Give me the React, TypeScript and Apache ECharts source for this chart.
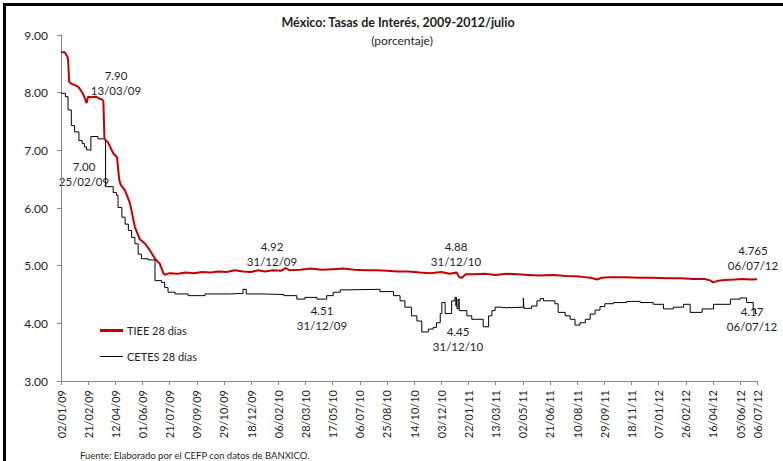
import React, { useEffect, useRef } from "react";
import * as echarts from "echarts";

const START = Date.UTC(2009, 0, 2);
const END_DATE = "2012-07-06";

const tieeDates = [
  "2009-01-02","2009-01-09","2009-01-14","2009-01-15","2009-01-17","2009-01-22","2009-01-28","2009-02-03","2009-02-11","2009-02-15",
  "2009-02-18","2009-02-21","2009-02-28","2009-03-07","2009-03-13","2009-03-19","2009-03-21","2009-03-23","2009-03-30","2009-04-08",
  "2009-04-15","2009-04-19","2009-04-22","2009-04-30","2009-05-09","2009-05-18","2009-05-27","2009-06-06","2009-06-15","2009-06-24",
  "2009-07-03","2009-07-09","2009-07-12","2009-07-21","2009-08-05","2009-08-20","2009-09-04","2009-09-19","2009-10-04","2009-10-19",
  "2009-11-03","2009-11-18","2009-12-03","2009-12-18","2009-12-31","2010-01-12","2010-01-27","2010-02-11","2010-02-20","2010-02-26",
  "2010-03-18","2010-04-07","2010-04-27","2010-05-17","2010-06-06","2010-06-26","2010-07-16","2010-08-05","2010-08-25","2010-09-14",
  "2010-10-04","2010-10-24","2010-11-13","2010-12-03","2010-12-18","2010-12-31","2011-01-05","2011-01-10","2011-01-17","2011-02-01",
  "2011-02-21","2011-03-13","2011-04-02","2011-04-22","2011-05-12","2011-06-01","2011-06-27","2011-07-21","2011-08-15","2011-09-04",
  "2011-09-16","2011-09-24","2011-10-09","2011-11-03","2011-12-04","2011-12-28","2012-01-22","2012-02-16","2012-03-12","2012-04-01",
  "2012-04-12","2012-04-16","2012-04-26","2012-05-08","2012-05-26","2012-06-10","2012-06-25","2012-07-06"
];
const tieeValues = [
  8.70,8.70,8.62,8.58,8.19,8.15,8.13,8.10,7.99,7.90,
  7.82,7.93,7.92,7.93,7.90,7.88,7.84,7.20,7.13,6.95,
  6.88,6.50,6.40,6.30,6.08,5.67,5.46,5.38,5.26,5.12,
  5.03,4.88,4.84,4.87,4.86,4.88,4.87,4.89,4.88,4.90,
  4.89,4.92,4.90,4.89,4.92,4.90,4.92,4.91,4.96,4.92,
  4.93,4.95,4.93,4.94,4.95,4.93,4.92,4.92,4.91,4.90,
  4.90,4.88,4.87,4.89,4.86,4.88,4.80,4.79,4.85,4.85,
  4.86,4.84,4.86,4.85,4.84,4.83,4.84,4.82,4.81,4.79,
  4.76,4.79,4.80,4.80,4.79,4.79,4.78,4.78,4.77,4.77,
  4.74,4.71,4.74,4.75,4.76,4.77,4.76,4.765
];

const cetesDates = [
  "2009-01-02","2009-01-10","2009-01-15","2009-01-21","2009-01-27","2009-02-04","2009-02-10","2009-02-14","2009-02-18","2009-02-22",
  "2009-02-26","2009-03-11","2009-03-21","2009-03-25","2009-04-08","2009-04-14","2009-04-17","2009-04-24","2009-04-30","2009-05-06",
  "2009-05-12","2009-05-18","2009-05-24","2009-05-30","2009-06-11","2009-06-24","2009-07-06","2009-07-12","2009-07-18","2009-07-31",
  "2009-08-24","2009-09-24","2009-11-12","2009-11-30","2009-12-03","2009-12-09","2010-01-07","2010-02-16","2010-03-12","2010-03-27",
  "2010-04-18","2010-05-06","2010-05-18","2010-05-31","2010-06-12","2010-08-12","2010-09-06","2010-09-18","2010-09-27","2010-10-09",
  "2010-10-19","2010-10-28","2010-11-09","2010-11-18","2010-11-24","2010-12-01","2010-12-04","2010-12-10","2010-12-22","2010-12-28",
  "2010-12-30","2010-12-31","2011-01-01","2011-01-03","2011-01-05","2011-01-19","2011-01-28","2011-02-18","2011-02-28","2011-03-06",
  "2011-03-12","2011-03-21","2011-04-02","2011-05-03","2011-05-04","2011-05-18","2011-05-28","2011-06-03","2011-06-09","2011-06-30",
  "2011-07-06","2011-07-19","2011-07-28","2011-08-06","2011-08-15","2011-08-25","2011-09-03","2011-09-12","2011-09-21","2011-09-30",
  "2011-10-16","2011-11-09","2011-12-04","2011-12-28","2012-01-16","2012-02-03","2012-02-22","2012-03-05","2012-03-27","2012-04-17",
  "2012-05-18","2012-06-05","2012-06-17","2012-06-29","2012-07-03","2012-07-06"
];
const cetesValues = [
  7.99,7.93,7.70,7.43,7.32,7.17,7.12,7.06,7.01,7.00,
  7.24,7.20,7.19,6.37,6.27,6.22,6.01,5.84,5.72,5.61,
  5.49,5.38,5.20,5.12,5.10,4.74,4.71,4.62,4.54,4.51,
  4.48,4.51,4.52,4.51,4.59,4.51,4.50,4.48,4.42,4.45,
  4.42,4.48,4.54,4.58,4.59,4.55,4.48,4.39,4.28,4.13,
  4.04,3.85,3.90,3.93,4.01,4.17,4.36,4.17,4.39,4.45,
  4.30,4.45,4.25,4.42,4.22,4.13,4.07,3.94,4.13,4.22,
  4.28,4.27,4.28,4.44,4.26,4.30,4.39,4.43,4.39,4.34,
  4.19,4.13,4.07,3.97,4.01,4.07,4.16,4.23,4.29,4.34,
  4.36,4.38,4.36,4.33,4.25,4.28,4.33,4.19,4.25,4.33,
  4.42,4.44,4.36,4.25,4.17,4.17
];

const xTickLabels = [
  "02/01/09","21/02/09","12/04/09","01/06/09","21/07/09","09/09/09","29/10/09","18/12/09","06/02/10","28/03/10",
  "17/05/10","06/07/10","25/08/10","14/10/10","03/12/10","22/01/11","13/03/11","02/05/11","21/06/11","10/08/11",
  "29/09/11","18/11/11","07/01/12","26/02/12","16/04/12","05/06/12","06/07/12"
];
const yTicks = [3, 4, 5, 6, 7, 8, 9];

const seriesNames = ["TIEE 28 días", "CETES 28 días"];
const seriesColors = ["#C00000", "#000000"];
const titleText = "México: Tasas de Interés, 2009-2012/julio";
const subtitleText = "(porcentaje)";
const sourceText = "Fuente: Elaborado por el CEFP con datos de BANXICO.";

const annotations = [
  { value: "7.90", date: "13/03/09", x: 116, y: 75 },
  { value: "7.00", date: "25/02/09", x: 84, y: 166 },
  { value: "4.92", date: "31/12/09", x: 272, y: 246 },
  { value: "4.88", date: "31/12/10", x: 456, y: 246 },
  { value: "4.51", date: "31/12/09", x: 322, y: 310 },
  { value: "4.45", date: "31/12/10", x: 458, y: 331 },
  { value: "4.765", date: "06/07/12", x: 753, y: 250 },
  { value: "4.17", date: "06/07/12", x: 752, y: 311 },
];

const FONT = "Lato";
const TEXT = "#1e1e1e";

function dayOf(s: string): number {
  const [y, m, d] = s.split("-").map(Number);
  return Math.round((Date.UTC(y, m - 1, d) - START) / 86400000);
}

export default function App() {
  const ref = useRef<HTMLDivElement>(null);
  useEffect(() => {
    if (!ref.current) return;
    const chart = echarts.init(ref.current, null, { renderer: "svg" });
    const maxDay = dayOf(END_DATE);
    const tiee = tieeDates.map((d, i) => [dayOf(d), tieeValues[i]]);
    const cetes = cetesDates.map((d, i) => [dayOf(d), cetesValues[i]]);

    const graphics: any[] = [
      { type: "rect", shape: { x: 3, y: 3, width: 780, height: 3 }, style: { fill: "#000" }, silent: true },
      { type: "rect", shape: { x: 3, y: 3, width: 3, height: 458 }, style: { fill: "#000" }, silent: true },
      { type: "text", x: 398, y: 22, style: { text: titleText, font: `bold 12.5px ${FONT}`, fill: TEXT, textAlign: "center", textVerticalAlign: "middle" } },
      { type: "text", x: 402, y: 40, style: { text: subtitleText, font: `12px ${FONT}`, fill: TEXT, textAlign: "center", textVerticalAlign: "middle" } },
      { type: "text", x: 80, y: 455, style: { text: sourceText, font: `9.5px ${FONT}`, fill: TEXT, textAlign: "left", textVerticalAlign: "middle" } },
      // legend
      { type: "line", shape: { x1: 100, y1: 330.5, x2: 123, y2: 330.5 }, style: { stroke: seriesColors[0], lineWidth: 3 } },
      { type: "text", x: 127, y: 330.5, style: { text: seriesNames[0], font: `11px ${FONT}`, fill: TEXT, textAlign: "left", textVerticalAlign: "middle" } },
      { type: "line", shape: { x1: 100, y1: 356.5, x2: 123, y2: 356.5 }, style: { stroke: seriesColors[1], lineWidth: 1 } },
      { type: "text", x: 127, y: 356.5, style: { text: seriesNames[1], font: `11px ${FONT}`, fill: TEXT, textAlign: "left", textVerticalAlign: "middle" } },
    ];
    annotations.forEach((a) => {
      graphics.push({ type: "text", x: a.x, y: a.y, style: { text: a.value, font: `11.5px ${FONT}`, fill: TEXT, textAlign: "center", textVerticalAlign: "middle" } });
      graphics.push({ type: "text", x: a.x, y: a.y + 15, style: { text: a.date, font: `11.5px ${FONT}`, fill: TEXT, textAlign: "center", textVerticalAlign: "middle" } });
    });

    chart.setOption({
      animation: false,
      backgroundColor: "#fff",
      grid: { left: 61, right: 26, top: 35, bottom: 80, containLabel: false },
      xAxis: {
        type: "value",
        min: 0,
        max: maxDay,
        interval: 50,
        axisLine: { lineStyle: { color: "#868686", width: 1 } },
        axisTick: { show: true, length: 4, lineStyle: { color: "#868686" } },
        splitLine: { show: false },
        axisLabel: {
          rotate: 90,
          margin: 9,
          fontFamily: FONT,
          fontSize: 11,
          color: TEXT,
          showMaxLabel: true,
          formatter: (v: number) => {
            if (v >= maxDay) return xTickLabels[xTickLabels.length - 1];
            const i = Math.round(v / 50);
            return xTickLabels[i] ?? "";
          },
        },
      },
      yAxis: {
        type: "value",
        min: yTicks[0],
        max: yTicks[yTicks.length - 1],
        interval: 1,
        axisLine: { show: true, lineStyle: { color: "#868686", width: 1 } },
        axisTick: { show: true, length: 4, lineStyle: { color: "#868686" } },
        splitLine: { show: false },
        axisLabel: {
          margin: 13,
          fontFamily: FONT,
          fontSize: 12,
          color: TEXT,
          formatter: (v: number) => v.toFixed(2),
        },
      },
      series: [
        {
          name: seriesNames[0],
          type: "line",
          data: tiee,
          symbol: "none",
          lineStyle: { color: seriesColors[0], width: 2 },
          itemStyle: { color: seriesColors[0] },
          z: 3,
        },
        {
          name: seriesNames[1],
          type: "line",
          data: cetes,
          symbol: "none",
          step: "end",
          lineStyle: { color: seriesColors[1], width: 1 },
          itemStyle: { color: seriesColors[1] },
          z: 2,
        },
      ],
      graphic: graphics,
    });
    return () => chart.dispose();
  }, []);
  return <div ref={ref} style={{ position: "absolute", left: 0, top: 0, width: 783, height: 461 }} />;
}
